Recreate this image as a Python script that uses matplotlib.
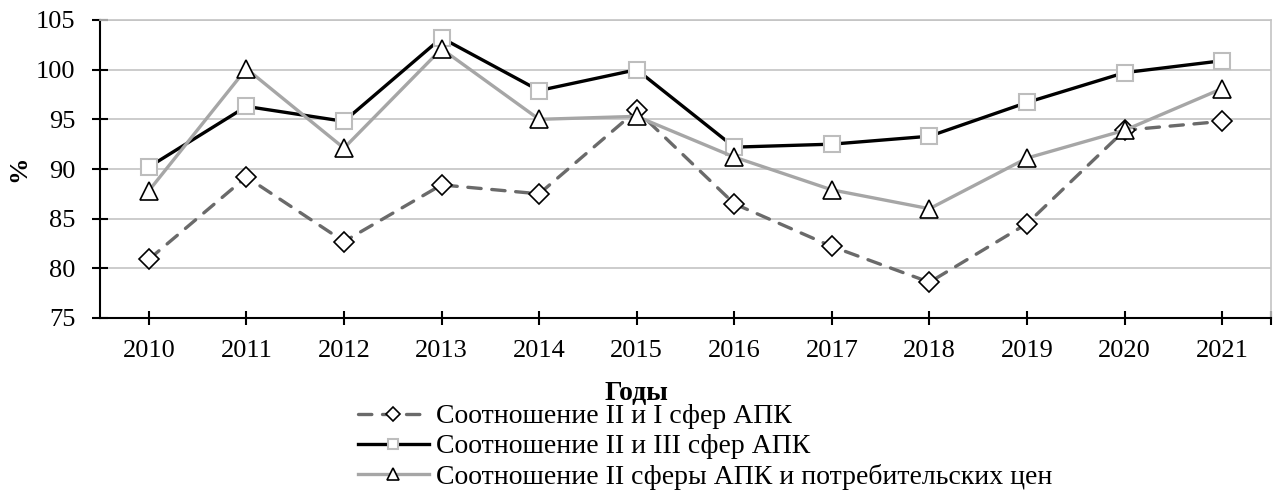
import matplotlib
matplotlib.use("Agg")
import matplotlib.pyplot as plt
from matplotlib.ticker import FixedLocator

plt.rcParams['font.family'] = ['Liberation Serif', 'DejaVu Serif']

years = [2010, 2011, 2012, 2013, 2014, 2015, 2016, 2017, 2018, 2019, 2020, 2021]
ratio_2_1 = [80.9, 89.2, 82.7, 88.4, 87.5, 95.9, 86.5, 82.2, 78.6, 84.5, 93.9, 94.8]
ratio_2_3 = [90.2, 96.3, 94.8, 103.2, 97.9, 100.0, 92.2, 92.5, 93.3, 96.7, 99.7, 100.9]
ratio_2_cpi = [87.8, 100.1, 92.1, 102.1, 95.0, 95.3, 91.2, 87.9, 86.0, 91.1, 93.9, 98.1]

labels = ['Соотношение II и I сфер АПК',
          'Соотношение II и III сфер АПК',
          'Соотношение II сферы АПК и потребительских цен']

W, H = 1274, 495
fig = plt.figure(figsize=(W / 100, H / 100), dpi=100)
ax = fig.add_axes([100 / W, 1 - 318 / H, 1171 / W, 298 / H])

ax.plot(years, ratio_2_1, color='#6a6a6a', lw=2.4, ls=(0, (4.0, 3.2)), dash_capstyle='round',
        marker='D', ms=10, mfc='white', mec='black', mew=1.2, label=labels[0], zorder=3)
ax.plot(years, ratio_2_3, color='black', lw=2.4,
        marker='s', ms=11, mfc='white', mec='#bdbdbd', mew=1.5, label=labels[1], zorder=4)
ax.plot(years, ratio_2_cpi, color='#a6a6a6', lw=2.4,
        marker='^', ms=13, mfc='white', mec='black', mew=1.2, label=labels[2], zorder=5)

ax.set_xlim(years[0] - 0.5, years[-1] + 0.5)
ax.set_ylim(75, 105)
ax.set_yticks(range(75, 106, 5))
ax.set_xticks(years)
ax.xaxis.set_minor_locator(FixedLocator([years[-1] + 0.5]))
ax.grid(axis='y', color='#c4c4c4', lw=1.2)
ax.set_axisbelow(True)

for s in ['top', 'right']:
    ax.spines[s].set_color('#c4c4c4')
    ax.spines[s].set_linewidth(1.2)
for s in ['left', 'bottom']:
    ax.spines[s].set_color('black')
    ax.spines[s].set_linewidth(1.5)

ax.tick_params(axis='x', direction='inout', length=9.5, width=1.5, labelsize=19, pad=11)
ax.tick_params(axis='x', which='minor', direction='inout', length=9.5, width=1.5)
ax.tick_params(axis='y', direction='inout', length=11.5, width=1.5, labelsize=19, pad=12)

ax.set_ylabel('%', fontsize=19, fontweight='bold', labelpad=4)
fig.text(636 / W, 1 - 400 / H, 'Годы', ha='center', va='baseline', fontsize=20, fontweight='bold')

fig.legend(loc='upper left', bbox_to_anchor=(358 / W, 1 - 404 / H), frameon=False,
           fontsize=20, handlelength=2.55, handletextpad=0.25, labelspacing=0.16,
           markerscale=0.7, borderpad=0, borderaxespad=0)

fig.savefig('out.png', dpi=100)
